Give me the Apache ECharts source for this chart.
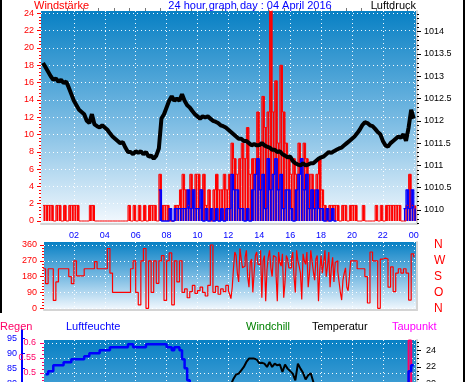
<!DOCTYPE html>
<html><head><meta charset="utf-8">
<script src="https://cdn.jsdelivr.net/npm/echarts@6/dist/echarts.min.js"></script>
<style>html,body{margin:0;padding:0;background:#fff;overflow:hidden}#c{width:470px;height:480px}</style>
</head><body><div id="c"></div>
<script>
// ---------- data (10-minute samples, index i = hour i/6) ----------
const gust = [
 1.8,1.8,1.8,1.8,0,1.8,  1.8,0,1.8,0,1.8,1.8,  1.8,1.8,0,0,0,0,  1.8,1.8,0,0,0,0,
 0,0,0,0,0,0,  0,0,0,1.8,0,1.8,  0,1.8,0,1.8,0,1.8,  1.8,1.8,0,5.4,1.8,1.8,
 1.8,0,0,1.8,1.8,3.6,  5.4,3.6,1.8,5.4,3.6,5.4,  5.4,3.6,5.4,1.8,3.6,0,  3.6,5.4,3.6,3.6,5.4,3.6,
 5.4,9,7.2,5.4,7.2,9,  7.2,10.8,5.4,7.2,7.2,12.6,  9,14.4,10.8,12.6,25.2,12.6,  16.2,9,18,12.6,9,7.2,
 5.4,7.2,5.4,9,7.2,9,  7.2,5.4,5.4,3.6,5.4,7.2,  3.6,1.8,0,1.8,1.8,1.8,  1.8,0,1.8,1.8,0,1.8,
 1.8,1.8,0,0,1.8,0,  0,0,0,1.8,0,1.8,  0,1.8,1.8,1.8,1.8,1.8,  1.8,0,0,1.8,5.4,1.8,
 1.8];
const N = null;
const avgWind = [
 N,N,N,N,N,N, N,N,N,N,N,N, N,N,N,N,N,N, N,N,N,N,N,N,
 N,N,N,N,N,N, N,N,N,N,N,N, N,N,N,N,N,N, N,N,N,3.6,0,0,
 0,1.44,0,1.44,1.44,1.44,  1.44,1.44,3.6,1.44,3.6,1.44,  1.44,3.6,0,1.44,0,1.44,  0,1.44,0,1.44,0,1.44,
 1.44,5.4,3.6,3.6,1.44,1.44,  0,1.44,0,3.6,5.4,7.2,  3.6,5.4,1.44,7.2,3.6,5.4,  7.2,3.6,5.4,1.44,3.6,3.6,
 1.44,0,3.6,5.4,7.2,3.6,  5.4,1.44,3.6,1.44,3.6,1.44,  1.44,0,1.44,0,1.44,0,  N,N,N,N,N,N,
 N,N,N,N,N,N, N,N,N,N,N,N, N,N,N,N,N,N,  N,N,1.44,3.6,1.44,3.6,
 1.44];
const pressure = [
 1013.3,1013.2,1013.1,1013.0,1012.92,1012.95,  1012.88,1012.92,1012.85,1012.88,1012.75,1012.6,
 1012.45,1012.35,1012.25,1012.2,1012.15,1012.0,  1011.95,1012.15,1011.92,1011.88,1011.85,1011.9,
 1011.85,1011.8,1011.72,1011.65,1011.6,1011.55,  1011.5,1011.52,1011.4,1011.3,1011.3,1011.25,
 1011.32,1011.28,1011.32,1011.25,1011.3,1011.2,  1011.22,1011.15,1011.22,1011.38,1012.05,1012.15,
 1012.3,1012.45,1012.55,1012.45,1012.5,1012.45,  1012.6,1012.45,1012.35,1012.3,1012.22,1012.15,
 1012.1,1012.05,1012.1,1012.08,1012.1,1012.05,  1012.0,1011.98,1011.95,1011.9,1011.88,1011.85,
 1011.8,1011.75,1011.7,1011.65,1011.6,1011.6,  1011.55,1011.55,1011.5,1011.45,1011.48,1011.45,
 1011.45,1011.5,1011.45,1011.42,1011.4,1011.35,  1011.35,1011.3,1011.32,1011.25,1011.22,1011.18,
 1011.2,1011.1,1011.05,1011.02,1011.0,1011.05,  1011.0,1011.02,1011.05,1011.05,1011.1,1011.15,
 1011.18,1011.2,1011.25,1011.3,1011.28,1011.32,  1011.35,1011.38,1011.4,1011.45,1011.5,1011.55,
 1011.6,1011.65,1011.72,1011.8,1011.9,1011.97,  1011.95,1011.9,1011.88,1011.82,1011.75,1011.7,
 1011.55,1011.45,1011.42,1011.5,1011.55,1011.6,  1011.65,1011.62,1011.7,1011.55,1011.85,1012.25,
 1012.05];
const direction = [
 225,140,225,225,45,150,  225,225,225,225,180,140,  270,184,184,184,225,225,  225,225,265,225,225,225,
 225,340,200,90,90,90,  90,90,90,90,225,270,  90,19,270,340,0,270,  90,270,142,270,300,45,
 270,315,20,270,150,270,  90,110,60,95,130,85,  100,120,90,70,130,360,  90,125,80,110,95,130,
 100,55,230,300,150,280,  240,330,120,280,200,320,  250,60,300,220,330,180,  290,40,260,310,150,280,
 230,320,90,270,200,310,  250,120,330,210,280,40,  300,260,180,320,230,150,  270,150,47,200,120,180,
 270,270,225,225,225,180,  30,320,270,270,0,280,  285,280,120,235,95,200,  225,200,225,200,47,310,
 290];
// extra 5-minute readings (at i/6 + 5 min) for the gusty 12h-20h stretch
const directionMid = [
 80,120,320,200,340,230,  290,180,260,90,300,250,  330,270,40,290,230,300,  200,320,240,60,300,230,
 280,180,330,240,50,270,  320,200,270,160,300,220,  200,330,240,120,290,260,  210,90,160,230,100,270];
const directionMidStart = 72;
const temperature = [
 12.5,12.4,12.3,12.2,12.1,12.0,  11.9,11.8,11.8,11.7,11.6,11.5,  11.5,11.4,11.3,11.3,11.2,11.1,  11.1,11.0,11.0,10.9,10.9,10.8,
 10.8,10.7,10.7,10.6,10.6,10.6,  10.5,10.5,10.5,10.4,10.4,10.5,  10.5,10.6,10.7,10.8,11.0,11.2,  11.4,11.7,12.0,12.3,12.7,13.1,
 13.5,13.9,14.3,14.7,15.1,15.5,  15.9,16.3,16.7,17.0,17.3,17.6,  17.9,18.1,18.3,18.5,18.7,18.9,  19.0,19.1,19.2,19.3,19.4,19.5,
 19.6,19.9,20.6,21.1,21.2,21.6,  22.0,22.6,23.0,23.0,23.0,22.9,  22.45,22.5,22.4,22.0,22.6,22.0,  22.4,22.2,22.3,21.4,22.3,21.8,
 21.5,21.2,20.4,22.4,21.8,21.3,  20.5,21.0,21.25,20.2,19.8,19.5,  19.2,18.9,18.6,18.3,18.0,17.7,  17.4,17.1,16.8,16.5,16.2,16.0,
 15.8,15.6,15.4,15.2,15.0,14.9,  14.8,14.7,14.6,14.5,14.4,14.3,  14.2,14.1,14.0,13.9,13.8,13.7,  13.6,13.5,13.4,13.3,13.2,13.1,
 13.0];
const humidity = [
 N,83,84,84,86,86,  86,86,87,87,87,88,  88,88,88,88,89,89,  90,90,90,90,91,91,
 91,91,92,92,92,92,  92,92,92,93,93,92,  92,92,92,92,93,93,  93,93,93,93,93,93,
 92,92,91,92,92,91,  88,85,81,76,72,69,  66,64,62,60,58,57,  55,54,53,52,51,50,
 49,48,47,46,45,45,  44,44,43,43,42,42,  42,41,41,41,40,40,  40,40,41,41,42,42,
 43,43,44,45,46,47,  48,49,50,51,52,53,  54,55,56,57,58,59,  60,61,62,63,64,64,
 65,66,67,67,68,69,  70,70,71,72,72,73,  74,74,75,75,76,76,  77,77,78,78,84,86,
 86];
const rain = [
 0,0,0,0,0,0, 0,0,0,0,0,0, 0,0,0,0,0,0, 0,0,0,0,0,0,
 0,0,0,0,0,0, 0,0,0,0,0,0, 0,0,0,0,0,0, 0,0,0,0,0,0,
 0,0,0,0,0,0, 0,0,0,0,0,0, 0,0,0,0,0,0, 0,0,0,0,0,0,
 0,0,0,0,0,0, 0,0,0,0,0,0, 0,0,0,0,0,0, 0,0,0,0,0,0,
 0,0,0,0,0,0, 0,0,0,0,0,0, 0,0,0,0,0,0, 0,0,0,0,0,0,
 0,0,0,0,0,0, 0,0,0,0,0,0, 0,0,0,0,0,0, 0,0,0,0,0.608,0,
 0];

// ---------- tick labels ----------
const hourTicks = [2,4,6,8,10,12,14,16,18,20,22,24];
const hourNames = ['02','04','06','08','10','12','14','16','18','20','22','00'];
const windTicks = [0,2,4,6,8,10,12,14,16,18,20,22,24];
const pressTicks = [1010,1010.5,1011,1011.5,1012,1012.5,1013,1013.5,1014];
const dirTicks = [0,90,180,270,360];
const compass = ['N','O','S','W','N'];
const rainTicks = [0.2,0.25,0.3,0.35,0.4,0.45,0.5,0.55,0.6];
const tempTicks = [10,12,14,16,18,20,22,24];
const humTicks = [50,55,60,65,70,75,80,85,90,95];
const titles = [
 ['Windstärke','#ff0000'],['24 hour graph day : 04 April 2016','#0000ff'],['Luftdruck','#000000'],
 ['Regen','#ff0066'],['Luftfeuchte','#0000ff'],['Windchill','#008000'],['Temperatur','#000000'],['Taupunkt','#ff00ff']
];

// ---------- helpers ----------
const FONT = 'Liberation Sans';
function rng(a,b,s){const r=[];for(let k=0;a+k*s<=b+1e-9;k++)r.push(+(a+k*s).toFixed(4));return r;}
const pairs = arr => arr.map((v,i)=>[i/6, v]);
const midPairs = arr => arr.map((v,i)=>[i/6 + 1/12, v]);   // bar centred in its 10-min slot
function mergedDirection(){
  const out = [];
  direction.forEach((v,i)=>{
    out.push([i/6, v]);
    const k = i - directionMidStart;
    if (k >= 0 && k < directionMid.length) out.push([i/6 + 1/12, directionMid[k]]);
  });
  return out;
}
const dotted = {show:true, lineStyle:{color:'rgba(255,255,255,0.95)', width:1, type:[1,3]}};
const grayLine = {show:true, onZero:false, lineStyle:{color:'#d4d4d4', width:2}};
const grad = stops => new echarts.graphic.LinearGradient(0,0,0,1, stops.map(s=>({offset:s[0], color:s[1]})));
const gStops = [[0,'#0880c4'],[0.5,'#76b9e2'],[1,'#f4f9fe']];
function yAx(o){ return Object.assign({type:'value', splitLine:{show:false}, axisLine:{show:false,onZero:false}, axisTick:{show:false}, axisLabel:{show:false}}, o); }
function xAx(o){ return Object.assign({type:'value', splitLine:{show:false}, axisLine:{show:false,onZero:false}, axisTick:{show:false}, axisLabel:{show:false}}, o); }
const lab = (c, extra) => Object.assign({show:true, color:c, fontSize:9, fontFamily:FONT}, extra);
const tk = (vals, c, len, inside) => ({show:true, customValues:vals, length:len, inside:!!inside, lineStyle:{color:c, width:1}});

const chart = echarts.init(document.getElementById('c'), null, {renderer:'canvas'});
const txt = (i, x, y, align) => ({type:'text', x:x, y:y, z:100, silent:true,
  style:{text:titles[i][0], fill:titles[i][1], font:'11px "'+FONT+'"', align:align, verticalAlign:'middle'}});
const stepLine = (data, color, w, xi, yi) => ({type:'line', xAxisIndex:xi, yAxisIndex:yi, data:data, step:'end', symbol:'none', silent:true,
  lineStyle:{color:color, width:w}, itemStyle:{color:color}});
const bars = (data, color, w) => ({type:'bar', xAxisIndex:0, yAxisIndex:0, data:data, barWidth:w, silent:true, itemStyle:{color:color}, barGap:'-100%'});

chart.setOption({
  animation:false,
  backgroundColor:'#ffffff',
  grid:[
    {left:41, top:11, width:376, height:213, show:true, borderWidth:0, backgroundColor:grad(gStops)},
    {left:44, top:242, width:373, height:68, show:true, borderWidth:0, backgroundColor:grad(gStops)},
    {left:44, top:340, width:373, height:138, show:true, borderWidth:0,
      backgroundColor:grad([[0,'#0880c4'],[0.3,'#3a9bd3'],[0.6,'#8cc5e8'],[1,'#f4f9fe']])},
    {left:44, top:330, width:373, height:148, show:false}
  ],
  xAxis:[
    xAx({gridIndex:0, min:-0.129, max:24.21, axisLine:grayLine,
      axisTick:{show:false, customValues:hourTicks},
      axisLabel:lab('#0000ff',{customValues:hourTicks, margin:7, formatter:v=>hourNames[hourTicks.indexOf(Math.round(v))]}),
      splitLine:dotted}),
    xAx({gridIndex:0, min:-0.129, max:24.21, axisTick:tk(rng(0.6,23.6,1),'#777777',3)}),
    xAx({gridIndex:1, min:0.065, max:24.21, axisLine:grayLine, axisTick:{show:false, customValues:hourTicks}, splitLine:dotted}),
    xAx({gridIndex:2, min:0.065, max:24.21, axisLine:grayLine, axisTick:{show:false, customValues:hourTicks}, splitLine:dotted}),
    xAx({gridIndex:3, min:0.065, max:24.21})
  ],
  yAxis:[
    yAx({gridIndex:0, position:'left', min:-0.346, max:24.27, axisTick:tk(windTicks,'#ff0000',4),
      axisLabel:lab('#ff0000',{customValues:windTicks, margin:7}), splitLine:dotted}),
    yAx({gridIndex:0, position:'left', min:-0.346, max:24.27, axisTick:tk(rng(0,24,0.4),'#ff0000',2)}),
    yAx({gridIndex:0, position:'right', min:1009.686, max:1014.464, axisLine:grayLine, axisTick:tk(pressTicks,'#000000',4),
      axisLabel:lab('#000000',{customValues:pressTicks, margin:7, formatter:v=>String(+v.toFixed(1))})}),
    yAx({gridIndex:0, position:'right', min:1009.686, max:1014.464, axisTick:tk(rng(1009.7,1014.4,0.1),'#000000',2)}),
    yAx({gridIndex:1, position:'left', min:-9.7, max:377, axisTick:tk(dirTicks,'#ff0000',4),
      axisLabel:lab('#ff0000',{customValues:dirTicks, margin:7}), splitLine:dotted}),
    yAx({gridIndex:1, position:'left', min:-9.7, max:377, axisTick:tk(rng(0,360,18),'#ff0000',2)}),
    yAx({gridIndex:1, position:'right', min:-9.7, max:377, axisLine:grayLine, axisTick:{show:false, customValues:dirTicks},
      axisLabel:lab('#ff0000',{customValues:dirTicks, margin:17, fontSize:12, formatter:v=>compass[Math.round(v/90)]})}),
    yAx({gridIndex:2, position:'left', min:0.15, max:0.61, axisTick:tk(rainTicks,'#ff0066',4),
      axisLabel:lab('#ff0066',{customValues:rainTicks, margin:8, formatter:v=>String(+v.toFixed(2))}), splitLine:dotted}),
    yAx({gridIndex:2, position:'left', min:0.15, max:0.61, axisTick:tk(rng(0.2,0.6,0.0125),'#ff0066',2)}),
    yAx({gridIndex:2, position:'right', min:8.70, max:25.23, axisLine:grayLine, axisTick:tk(tempTicks,'#000000',4),
      axisLabel:lab('#000000',{customValues:tempTicks, margin:9})}),
    yAx({gridIndex:2, position:'right', min:8.70, max:25.23, axisTick:tk(rng(9,25,0.5),'#000000',2)}),
    yAx({gridIndex:3, position:'left', offset:22, min:48.43, max:97.77,
      axisLine:{show:true, onZero:false, lineStyle:{color:'#0000ff', width:2}},
      axisTick:tk(humTicks,'#0000ff',3,true),
      axisLabel:lab('#0000ff',{customValues:humTicks, margin:5})})
  ],
  series:[
    bars(midPairs(gust), '#ff0000', 2),
    stepLine(pairs(gust), '#ff0000', 1, 0, 0),
    bars(midPairs(avgWind), '#0000ff', 1.6),
    stepLine(pairs(avgWind), '#0000ff', 1.3, 0, 0),
    {type:'line', xAxisIndex:0, yAxisIndex:2, data:pairs(pressure), symbol:'none', silent:true,
      lineStyle:{color:'#000000', width:4}, itemStyle:{color:'#000000'}},
    stepLine(mergedDirection(), '#ff0000', 1.2, 2, 4),
    {type:'line', xAxisIndex:3, yAxisIndex:9, data:pairs(temperature), symbol:'none', silent:true,
      lineStyle:{color:'#000000', width:2}, itemStyle:{color:'#000000'}},
    stepLine(pairs(rain), '#ff0066', 2, 3, 7),
    stepLine(pairs(humidity), '#0000ff', 2.5, 4, 11)
  ],
  graphic:[
    {type:'rect', silent:true, shape:{x:0, y:0, width:2, height:313}, style:{fill:'#000000'}},
    {type:'rect', silent:true, shape:{x:463, y:0, width:2, height:382}, style:{fill:'#000000'}},
    txt(0, 34, 6, 'left'), txt(1, 250, 6, 'center'), txt(2, 416, 6, 'right'),
    txt(3, 0, 327, 'left'), txt(4, 66, 327, 'left'), txt(5, 246, 327, 'left'),
    txt(6, 312, 327, 'left'), txt(7, 392, 327, 'left')
  ]
});
</script></body></html>
